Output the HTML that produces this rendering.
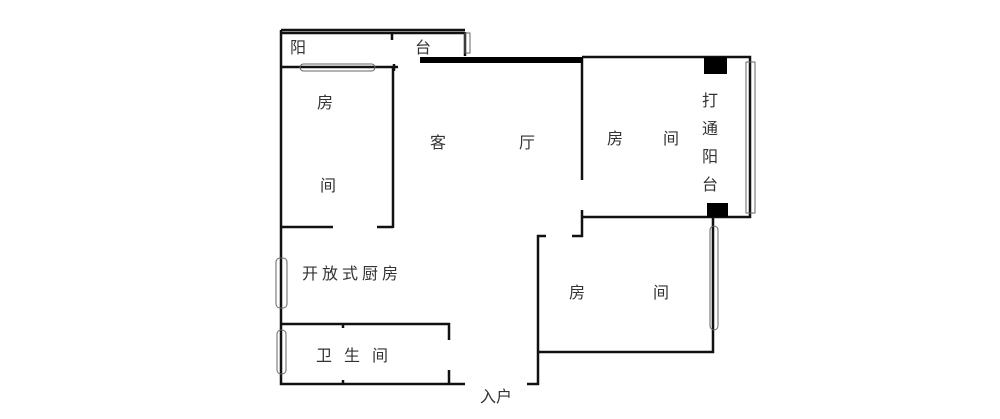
<!DOCTYPE html>
<html><head><meta charset="utf-8"><style>
body{margin:0;background:#fff;}
svg text{font-family:"Liberation Sans","Noto Sans CJK SC",sans-serif;font-size:16px;fill:#333;}
</style></head><body>
<svg width="1000" height="414" viewBox="0 0 1000 414" xmlns="http://www.w3.org/2000/svg">
<g stroke="#111" stroke-width="2.5" fill="none">
<path d="M281 30H465M281 33H465M281 30V384H465M527 384H538V236H546M393 67V228M281 67H398M281 227H333M377 227H393"/>
<path d="M392 32V40M394 64V71"/>
<path d="M465 32V56M582 57H750V217H582M582 57V180M582 210V236H572"/>
<path d="M713 217V352H538"/>
<path d="M281 324H449V340M449 370V384M343 324V328M343 380V384"/>
</g>
<rect x="420" y="57" width="163" height="6" fill="#000"/>
<rect x="704" y="57" width="23" height="17" fill="#000"/>
<rect x="707" y="203" width="21" height="14" fill="#000"/>
<g stroke="#666" stroke-width="1" fill="none">
<rect x="465" y="33" width="5" height="20"/>
<rect x="300" y="64" width="75" height="7" rx="3.5"/>
<rect x="746" y="62" width="9" height="151"/>
<rect x="710" y="226" width="8" height="104" rx="4"/>
<rect x="276" y="258" width="11" height="50" rx="4"/>
<rect x="277" y="330" width="9" height="44" rx="4"/>
</g>
<text x="290" y="53">阳</text><text x="415" y="53">台</text>
<text x="317" y="108">房</text><text x="320" y="191">间</text>
<text x="430" y="148">客</text><text x="519" y="148">厅</text>
<text x="607" y="144">房</text><text x="663" y="144">间</text>
<text x="702" y="106">打</text><text x="702" y="134">通</text><text x="702" y="162">阳</text><text x="702" y="190">台</text>
<text x="569" y="298">房</text><text x="653" y="298">间</text>
<text x="302" y="279" letter-spacing="4">开放式厨房</text>
<text x="316" y="361" letter-spacing="12">卫生间</text>
<text x="480" y="402">入户</text>
</svg>
</body></html>
